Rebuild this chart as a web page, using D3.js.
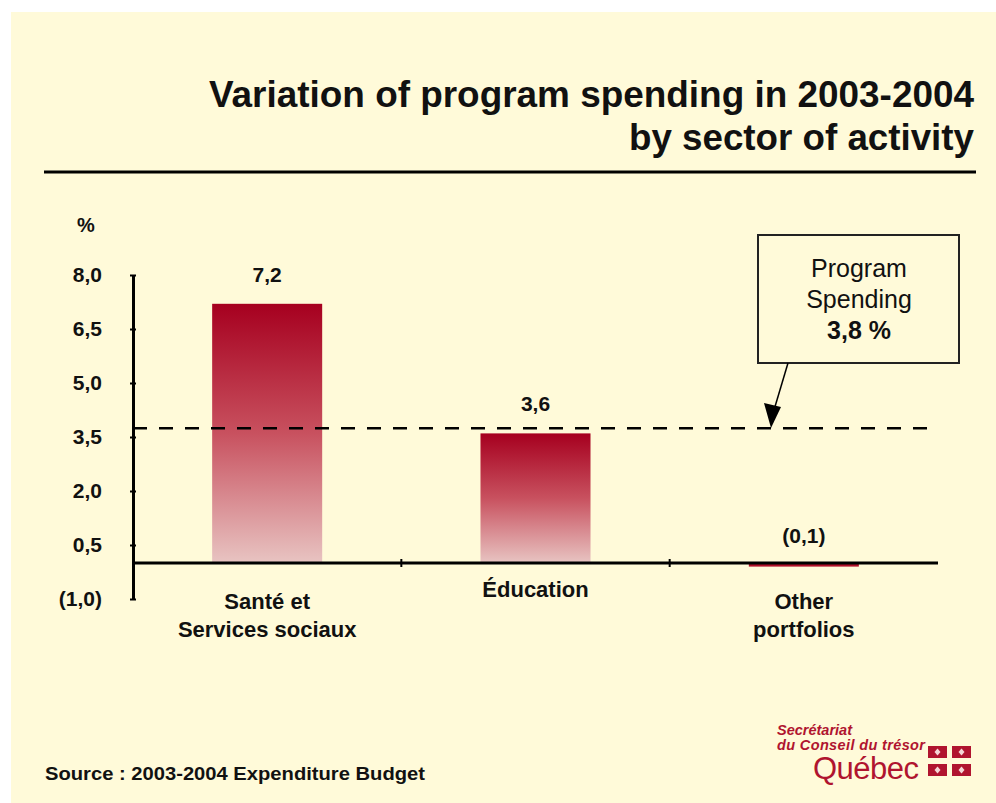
<!DOCTYPE html>
<html>
<head>
<meta charset="utf-8">
<script src="https://cdn.jsdelivr.net/npm/d3@7"></script>
<style>
  body { margin: 0; background: #fff; }
  text { font-family: "Liberation Sans", Arial, sans-serif; }
</style>
</head>
<body>
<div id="chart"></div>
<script>
// Chart data
var sectors = [["Santé et", "Services sociaux"], ["Éducation"], ["Other", "portfolios"]];
var variation = [7.2, 3.6, -0.1];
var valueLabels = ["7,2", "3,6", "(0,1)"];
var yTicks = [-1.0, 0.5, 2.0, 3.5, 5.0, 6.5, 8.0];
var yTickLabels = ["(1,0)", "0,5", "2,0", "3,5", "5,0", "6,5", "8,0"];
var programSpending = 3.8;
var programLabel = ["Program", "Spending", "3,8 %"];

// svg dimensions
var svgWidth = 996;
var svgHeight = 803;

var margin = { top: 275, right: 58, bottom: 204, left: 133 };
var width = svgWidth - margin.left - margin.right;
var height = svgHeight - margin.top - margin.bottom;

var svg = d3.select("#chart")
    .append("svg")
    .attr("width", svgWidth)
    .attr("height", svgHeight);

// cream background panel
svg.append("rect")
    .attr("x", 11)
    .attr("y", 12)
    .attr("width", svgWidth - 11)
    .attr("height", svgHeight - 12)
    .attr("fill", "#fffad9");

// gradient for bars
var defs = svg.append("defs");
var grad = defs.append("linearGradient")
    .attr("id", "barGrad")
    .attr("x1", 0).attr("y1", 0)
    .attr("x2", 0).attr("y2", 1);
grad.append("stop").attr("offset", "0%").attr("stop-color", "#a6001f");
grad.append("stop").attr("offset", "50%").attr("stop-color", "#c8515f");
grad.append("stop").attr("offset", "100%").attr("stop-color", "#e8c4c2");

// title
var title = svg.append("g").attr("font-weight", "bold").attr("font-size", 36).attr("text-anchor", "end").attr("fill", "#111");
title.append("text").attr("x", 974).attr("y", 107).attr("textLength", 765).attr("lengthAdjust", "spacingAndGlyphs").text("Variation of program spending in 2003-2004");
title.append("text").attr("x", 974).attr("y", 150).attr("textLength", 345).attr("lengthAdjust", "spacingAndGlyphs").text("by sector of activity");

svg.append("line")
    .attr("x1", 44).attr("x2", 976)
    .attr("y1", 172).attr("y2", 172)
    .attr("stroke", "#000")
    .attr("stroke-width", 3);

var chartGroup = svg.append("g")
    .attr("transform", `translate(${margin.left}, ${margin.top})`);

// scales
var xScale = d3.scaleBand()
    .domain(d3.range(sectors.length))
    .range([0, width])
    .paddingInner(0.59)
    .paddingOuter(0.295);

var yScale = d3.scaleLinear()
    .domain([-1, 8])
    .range([height, 0]);

// y axis
var leftAxis = d3.axisLeft(yScale)
    .tickValues(yTicks)
    .tickSize(0)
    .tickFormat((d, i) => yTickLabels[i]);

var yAxis = chartGroup.append("g").call(leftAxis);
yAxis.select(".domain").attr("stroke", "#000").attr("stroke-width", 3);
yAxis.selectAll(".tick text")
    .attr("x", -31)
    .attr("font-size", 21)
    .attr("font-weight", "bold")
    .attr("fill", "#111");
yAxis.selectAll(".tick").append("line")
    .attr("x1", -3).attr("x2", 3)
    .attr("stroke", "#000").attr("stroke-width", 2);

chartGroup.append("text")
    .attr("x", -47)
    .attr("y", -43)
    .attr("text-anchor", "middle")
    .attr("font-size", 20)
    .attr("font-weight", "bold")
    .attr("fill", "#111")
    .text("%");

// bars
chartGroup.selectAll(".bar")
    .data(variation)
    .enter()
    .append("rect")
    .attr("class", "bar")
    .attr("x", (d, i) => xScale(i))
    .attr("y", d => yScale(Math.max(0, d)))
    .attr("width", xScale.bandwidth())
    .attr("height", d => Math.abs(yScale(d) - yScale(0)))
    .attr("fill", d => d > 0 ? "url(#barGrad)" : "#b0102a");

// zero line with category separators
chartGroup.append("line")
    .attr("x1", 0).attr("x2", width)
    .attr("y1", yScale(0)).attr("y2", yScale(0))
    .attr("stroke", "#000").attr("stroke-width", 3);

var step = xScale.step();
chartGroup.selectAll(".sep")
    .data([1, 2])
    .enter()
    .append("line")
    .attr("class", "sep")
    .attr("x1", d => xScale(d) - (step - xScale.bandwidth()) / 2)
    .attr("x2", d => xScale(d) - (step - xScale.bandwidth()) / 2)
    .attr("y1", yScale(0) - 4).attr("y2", yScale(0) + 4)
    .attr("stroke", "#000").attr("stroke-width", 2);

// value labels
chartGroup.selectAll(".val")
    .data(variation)
    .enter()
    .append("text")
    .attr("class", "val")
    .attr("x", (d, i) => xScale(i) + xScale.bandwidth() / 2)
    .attr("y", (d, i) => i === 2 ? yScale(0) - 20 : yScale(d) - 22)
    .attr("text-anchor", "middle")
    .attr("font-size", 21)
    .attr("font-weight", "bold")
    .attr("fill", "#111")
    .text((d, i) => valueLabels[i]);

// category labels
var catGroup = chartGroup.selectAll(".cat")
    .data(sectors)
    .enter()
    .append("text")
    .attr("class", "cat")
    .attr("text-anchor", "middle")
    .attr("font-size", 22)
    .attr("font-weight", "bold")
    .attr("fill", "#111")
    .attr("transform", (d, i) => `translate(${xScale(i) + xScale.bandwidth() / 2}, ${d.length === 1 ? yScale(0) + 34 : yScale(0) + 46})`);
catGroup.selectAll("tspan")
    .data(d => d)
    .enter()
    .append("tspan")
    .attr("x", 0)
    .attr("dy", (d, i) => i === 0 ? 0 : 28)
    .text(d => d);

// program spending dashed line
chartGroup.append("line")
    .attr("x1", 0).attr("x2", width)
    .attr("y1", yScale(programSpending) + 2).attr("y2", yScale(programSpending) + 2)
    .attr("stroke", "#000")
    .attr("stroke-width", 2.5)
    .attr("stroke-dasharray", "14,12");

// annotation box
var box = svg.append("g");
box.append("rect")
    .attr("x", 758).attr("y", 235)
    .attr("width", 201).attr("height", 128)
    .attr("fill", "#fffad9")
    .attr("stroke", "#222")
    .attr("stroke-width", 2);
box.selectAll("text")
    .data(programLabel)
    .enter()
    .append("text")
    .attr("x", 859)
    .attr("y", (d, i) => 277 + i * 31)
    .attr("text-anchor", "middle")
    .attr("font-size", 25)
    .attr("font-weight", (d, i) => i === 2 ? "bold" : "normal")
    .attr("fill", "#111")
    .text(d => d);

box.append("line")
    .attr("x1", 788).attr("y1", 363)
    .attr("x2", 774).attr("y2", 410)
    .attr("stroke", "#000")
    .attr("stroke-width", 1.5);
box.append("path")
    .attr("d", "M771,428 L764,403 L781,407 Z")
    .attr("fill", "#000");

// source
svg.append("text")
    .attr("x", 45).attr("y", 780)
    .attr("font-size", 19)
    .attr("font-weight", "bold")
    .attr("fill", "#111")
    .attr("textLength", 380)
    .attr("lengthAdjust", "spacingAndGlyphs")
    .text("Source : 2003-2004 Expenditure Budget");

// logo
var logo = svg.append("g").attr("fill", "#b0142f");
logo.append("text").attr("x", 777).attr("y", 735).attr("font-size", 14.5).attr("font-weight", "bold").attr("font-style", "italic").text("Secrétariat");
logo.append("text").attr("x", 777).attr("y", 750).attr("font-size", 14.5).attr("font-weight", "bold").attr("font-style", "italic").attr("textLength", 148).text("du Conseil du trésor");
logo.append("text").attr("x", 813).attr("y", 779).attr("font-size", 31).attr("font-family", "Liberation Serif, serif").attr("textLength", 106).text("Québec");
var flags = [[928, 746], [952, 746], [928, 764], [952, 764]];
flags.forEach(function(f) {
    logo.append("rect").attr("x", f[0]).attr("y", f[1]).attr("width", 19).attr("height", 12);
    logo.append("path")
        .attr("d", `M${f[0] + 9.5},${f[1] + 2.5} L${f[0] + 12.5},${f[1] + 6} L${f[0] + 9.5},${f[1] + 9.5} L${f[0] + 6.5},${f[1] + 6} Z`)
        .attr("fill", "#f4d6d6");
});
</script>
</body>
</html>
